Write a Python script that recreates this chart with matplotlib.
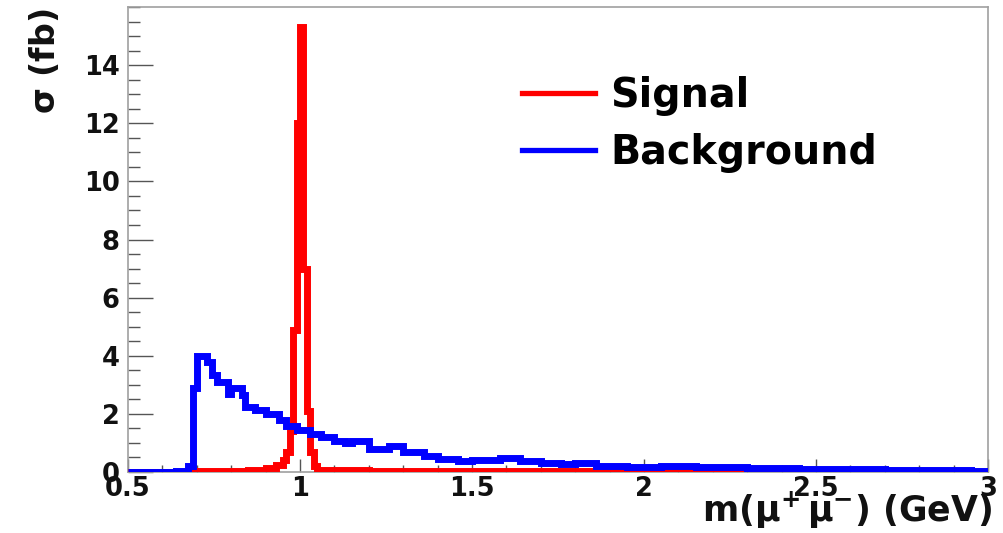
import matplotlib
matplotlib.use("Agg")
import matplotlib.pyplot as plt
from matplotlib.lines import Line2D
from matplotlib.ticker import MultipleLocator

plt.rcParams["font.family"] = ["DejaVu Sans"]
plt.rcParams["mathtext.default"] = "regular"

# ── Datos (histogramas) ────────────────────────────────────────────────────
sig_edges = [0.50, 0.70, 0.75, 0.80, 0.85, 0.90, 0.93, 0.95, 0.96, 0.97,
             0.98, 0.99, 1.00, 1.01, 1.02, 1.03, 1.04, 1.05, 1.10, 1.20,
             1.50, 1.90, 2.20, 3.00]
sig_vals = [0.0, 0.02, 0.03, 0.05, 0.08, 0.15, 0.25, 0.4, 0.7, 1.4,
            4.9, 12.0, 15.3, 7.0, 2.1, 0.7, 0.2, 0.08, 0.06, 0.05,
            0.04, 0.02, 0.0]

bkg_edges = [0.50, 0.64, 0.675, 0.69, 0.70, 0.73, 0.745, 0.76, 0.79, 0.80,
             0.83, 0.84, 0.87, 0.90, 0.94, 0.96, 0.99, 1.03, 1.06, 1.10,
             1.13, 1.15, 1.20, 1.26, 1.30, 1.36, 1.40, 1.46, 1.50, 1.58,
             1.64, 1.70, 1.76, 1.80, 1.86, 1.95, 2.05, 2.15, 2.30, 2.45,
             2.70, 2.80, 2.95, 3.00]
bkg_vals = [0.0, 0.03, 0.2, 2.9, 4.0, 3.8, 3.35, 3.1, 2.7, 2.9,
            2.65, 2.25, 2.15, 2.0, 1.8, 1.6, 1.45, 1.3, 1.2, 1.05,
            1.0, 1.05, 0.8, 0.88, 0.68, 0.55, 0.45, 0.38, 0.42, 0.47,
            0.38, 0.3, 0.26, 0.32, 0.22, 0.18, 0.2, 0.17, 0.15, 0.1,
            0.08, 0.07, 0.05]

x_ticks = [0.5, 1, 1.5, 2, 2.5, 3]
x_tick_labels = ["0.5", "1", "1.5", "2", "2.5", "3"]
y_ticks = [0, 2, 4, 6, 8, 10, 12, 14]

fig = plt.figure(figsize=(10.04, 5.33), dpi=100)
ax = fig.add_axes([128 / 1004, 1 - 472 / 533, (988 - 128) / 1004, (472 - 7) / 533])

ax.stairs(sig_vals, sig_edges, color="#ff0000", linewidth=5.0, zorder=3)
ax.stairs(bkg_vals, bkg_edges, color="#0000ff", linewidth=5.0, zorder=4)

ax.set_xlim(0.5, 3.0)
ax.set_ylim(0, 16)

ax.set_xticks(x_ticks)
ax.set_xticklabels(x_tick_labels)
ax.set_yticks(y_ticks)
ax.xaxis.set_minor_locator(MultipleLocator(0.1))
ax.yaxis.set_minor_locator(MultipleLocator(0.5))

tick_col = "#555555"
ax.tick_params(axis="x", which="major", direction="in", length=9.4, width=1.0,
               color=tick_col, labelsize=18.5, pad=3)
ax.tick_params(axis="x", which="minor", direction="in", length=4.7, width=1.0,
               color=tick_col)
ax.tick_params(axis="y", which="major", direction="in", length=18, width=1.0,
               color=tick_col, labelsize=18.5, pad=6)
ax.tick_params(axis="y", which="minor", direction="in", length=8.6, width=1.0,
               color=tick_col)
for lab in ax.get_xticklabels() + ax.get_yticklabels():
    lab.set_fontweight("bold")
    lab.set_color("#111111")

for sp in ax.spines.values():
    sp.set_color("#a0a0a0")
    sp.set_linewidth(1.2)

fig.text(992 / 1004, 1 - 510 / 533, r"m($\mu^{+}\,\mu^{-}$) (GeV)",
         ha="right", va="center", fontsize=25, fontweight="bold", color="#111111")
fig.text(45 / 1004, 1 - 8 / 533, r"$\sigma$ (fb)", rotation=90,
         ha="center", va="top", fontsize=24, fontweight="bold", color="#111111")

handles = [Line2D([], [], color="#ff0000", linewidth=3.8),
           Line2D([], [], color="#0000ff", linewidth=3.8)]
leg = ax.legend(handles, ["Signal", "Background"], loc="upper left",
                bbox_to_anchor=(522 / 1004, 1 - 76 / 533),
                bbox_transform=fig.transFigure, frameon=False,
                prop={"size": 28.5, "weight": "bold"}, handlelength=1.85,
                handletextpad=0.38, labelspacing=0.42, borderpad=0,
                borderaxespad=0)

fig.savefig("out.png", dpi=100)
